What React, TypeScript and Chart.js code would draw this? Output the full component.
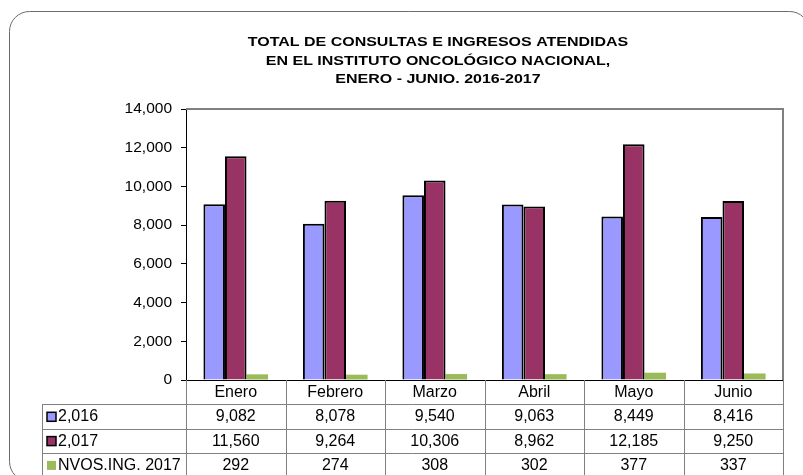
import React, { useEffect, useRef } from "react";
import { Chart, registerables } from "chart.js";

Chart.register(...registerables);

const months = ["Enero", "Febrero", "Marzo", "Abril", "Mayo", "Junio"];
const seriesNames = ["2,016", "2,017", "NVOS.ING. 2017"];
const values2016 = [9082, 8078, 9540, 9063, 8449, 8416];
const values2017 = [11560, 9264, 10306, 8962, 12185, 9250];
const nuevosIngresos2017 = [292, 274, 308, 302, 377, 337];
const yMin = 0;
const yMax = 14000;
const yStep = 2000;
const titleLines = [
  "TOTAL DE CONSULTAS E INGRESOS ATENDIDAS",
  "EN EL INSTITUTO ONCOLÓGICO NACIONAL,",
  "ENERO - JUNIO. 2016-2017",
];

const seriesColors = ["#9999FF", "#993366", "#9BBB59"];
const seriesBorders = [2, 2, 0];
const FONT = '"Liberation Sans", Arial, sans-serif';

const fmt = (v: number) => v.toLocaleString("en-US");

export default function App() {
  const ref = useRef<HTMLCanvasElement | null>(null);

  useEffect(() => {
    if (!ref.current) return;
    const seriesData = [values2016, values2017, nuevosIngresos2017];

    const decor = {
      id: "decor",
      beforeDraw(chart: any) {
        const { ctx, width, height } = chart;
        ctx.save();
        ctx.fillStyle = "#ffffff";
        ctx.fillRect(0, 0, width, height);
        // outer rounded frame
        ctx.strokeStyle = "#6b6b6b";
        ctx.lineWidth = 1;
        ctx.beginPath();
        if ((ctx as any).roundRect) {
          (ctx as any).roundRect(9.5, 11.5, 800, 470, 20);
        } else {
          ctx.rect(9.5, 11.5, 800, 470);
        }
        ctx.stroke();
        // title
        ctx.fillStyle = "#000";
        ctx.font = `bold 13px ${FONT}`;
        ctx.textAlign = "center";
        ctx.textBaseline = "alphabetic";
        const baselines = [46, 64.5, 83];
        titleLines.forEach((t, i) => {
          ctx.save();
          ctx.translate(438, baselines[i]);
          ctx.scale(1.23, 1);
          ctx.fillText(t, 0, 0);
          ctx.restore();
        });
        ctx.restore();
      },
      afterDraw(chart: any) {
        const { ctx, chartArea } = chart;
        const { left, right, top, bottom } = chartArea;
        ctx.save();
        // plot area top/right border
        ctx.strokeStyle = "#808080";
        ctx.lineWidth = 2;
        ctx.beginPath();
        ctx.moveTo(left, top);
        ctx.lineTo(right, top);
        ctx.lineTo(right, bottom);
        ctx.stroke();

        // data table
        const n = months.length;
        const colW = (right - left) / n;
        const rowH = 24.3;
        const tableLeft = 42;
        const tableBottom = chart.height + 5;
        ctx.strokeStyle = "#808080";
        ctx.lineWidth = 1;
        ctx.beginPath();
        for (let i = 0; i <= n; i++) {
          const x = Math.round(left + i * colW) + 0.5;
          ctx.moveTo(x, bottom);
          ctx.lineTo(x, tableBottom);
        }
        ctx.moveTo(tableLeft + 0.5, bottom + rowH);
        ctx.lineTo(tableLeft + 0.5, tableBottom);
        for (let r = 1; r <= 3; r++) {
          const y = Math.round(bottom + r * rowH) + 0.5;
          ctx.moveTo(tableLeft, y);
          ctx.lineTo(right, y);
        }
        ctx.stroke();

        ctx.fillStyle = "#000";
        ctx.font = `16px ${FONT}`;
        ctx.textBaseline = "alphabetic";
        ctx.textAlign = "center";
        months.forEach((m, i) => {
          const cx = left + (i + 0.5) * colW;
          ctx.fillText(m, cx, bottom + 17);
          seriesData.forEach((arr, s) => {
            ctx.fillText(fmt(arr[i]), cx, bottom + rowH * (s + 1) + 17);
          });
        });
        ctx.textAlign = "left";
        seriesNames.forEach((name, s) => {
          const rowTop = bottom + rowH * (s + 1);
          const sy = rowTop + 8;
          ctx.fillStyle = seriesColors[s];
          ctx.fillRect(47, sy, 9, 9);
          if (seriesBorders[s] > 0) {
            ctx.strokeStyle = "#000";
            ctx.lineWidth = 1.5;
            ctx.strokeRect(47, sy, 9, 9);
          }
          ctx.fillStyle = "#000";
          ctx.fillText(name, 58, rowTop + 17);
        });
        ctx.restore();
      },
    };

    const chart = new Chart(ref.current, {
      type: "bar",
      data: {
        labels: months,
        datasets: seriesNames.map((name, s) => ({
          label: name,
          data: seriesData[s],
          backgroundColor: seriesColors[s],
          borderColor: "#000000",
          borderWidth: seriesBorders[s],
          categoryPercentage: 0.65,
          barPercentage: 1.0,
        })),
      },
      options: {
        responsive: false,
        animation: false,
        devicePixelRatio: 1,
        layout: { padding: { left: 0, top: 109, right: 20, bottom: 95 } },
        plugins: {
          legend: { display: false },
          title: { display: false },
          tooltip: { enabled: false },
        },
        scales: {
          x: {
            grid: { display: false },
            ticks: { display: false },
            border: { display: true, color: "#000", width: 1 },
            afterFit(scale: any) {
              scale.height = 0;
            },
          },
          y: {
            min: yMin,
            max: yMax,
            ticks: {
              stepSize: yStep,
              color: "#000",
              padding: 9,
              font: { family: FONT, size: 15.5 },
              callback: (v: any) => fmt(Number(v)),
            },
            grid: {
              drawOnChartArea: false,
              drawTicks: true,
              tickLength: 5,
              color: "#000",
            },
            border: { display: true, color: "#000", width: 1 },
            afterFit(scale: any) {
              scale.width = 186;
            },
          },
        },
      },
      plugins: [decor],
    });
    return () => chart.destroy();
  }, []);

  return (
    <div style={{ position: "fixed", left: 0, top: 0, width: 803, height: 475 }}>
      <canvas ref={ref} width={803} height={475} style={{ display: "block", width: 803, height: 475 }} />
    </div>
  );
}
